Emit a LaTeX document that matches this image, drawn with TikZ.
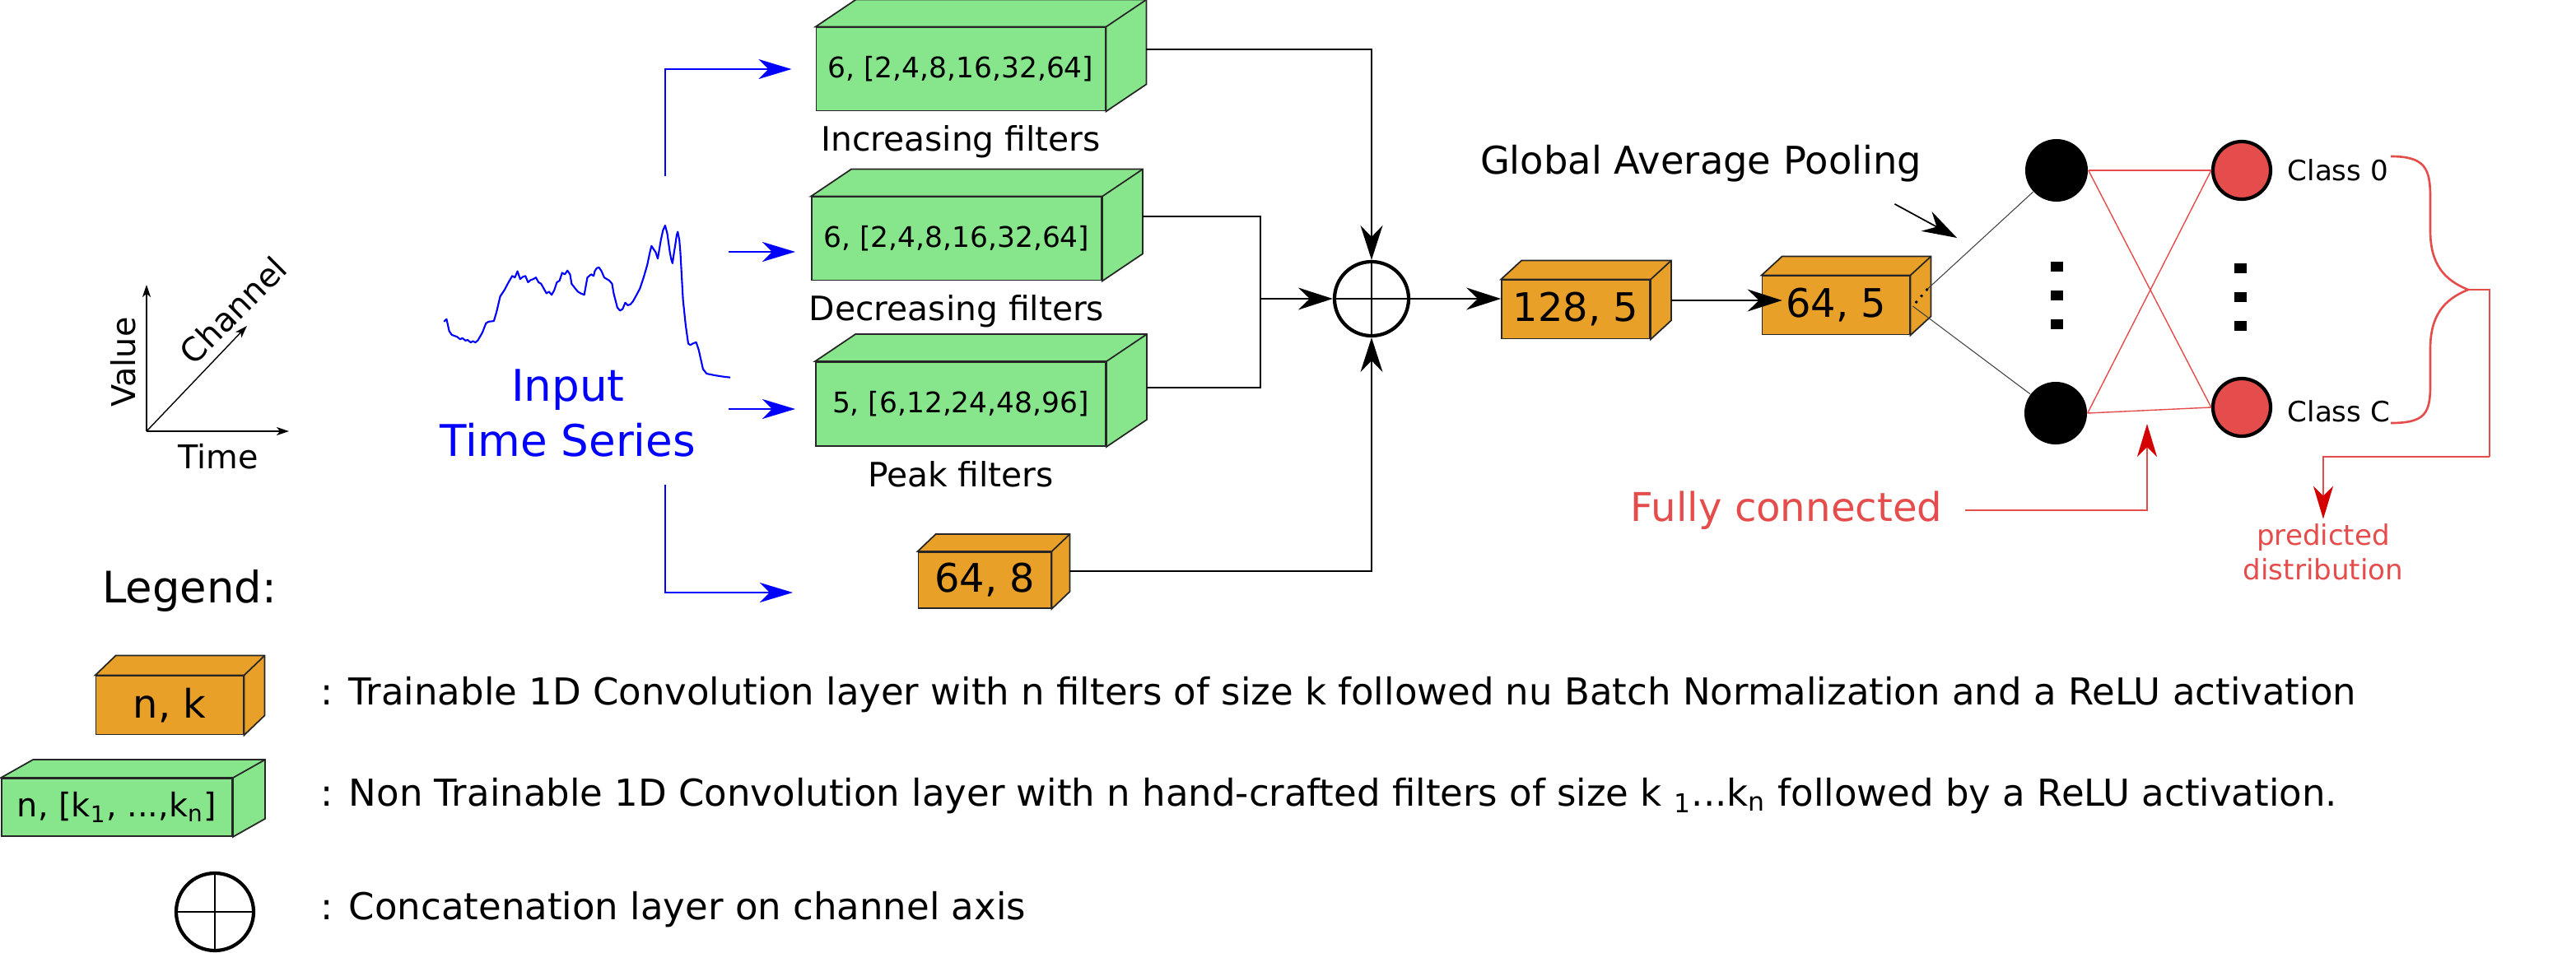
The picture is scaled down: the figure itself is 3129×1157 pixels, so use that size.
\documentclass[tikz,border=0pt]{standalone}
\usepackage{fontspec}
\setmainfont{DejaVu Sans}
\usepackage{tikz}
\usetikzlibrary{arrows.meta,calc,positioning}

\definecolor{boxgreen}{RGB}{135,230,139}
\definecolor{boxorange}{RGB}{232,160,40}
\definecolor{fcred}{RGB}{229,76,76}
\definecolor{tipred}{RGB}{212,0,0}

\begin{document}
\begin{tikzpicture}[
    x=0.01cm, y=-0.01cm,
    layer/.style={
      rectangle,
      draw=black!85,
      line width=0.5pt,
      inner sep=0pt,
      anchor=center
    },
    greenbox/.style={layer, fill=boxgreen, font=\fontsize{9.8}{12}\selectfont},
    orangebox/.style={layer, fill=boxorange, font=\fontsize{13.6}{16}\selectfont},
    caption/.style={font=\fontsize{11.6}{14}\selectfont},
    legendtext/.style={anchor=west, inner sep=0pt, font=\fontsize{12.8}{15}\selectfont},
    catnode/.style={
      circle, draw, line width=1.2pt, minimum size=0.90cm, inner sep=0pt,
      path picture={
        \draw[line width=0.45pt] (path picture bounding box.north) -- (path picture bounding box.south)
                                 (path picture bounding box.west) -- (path picture bounding box.east);
      }
    },
    conn/.style={line width=0.5pt, -{Stealth[length=0.42cm, width=0.27cm, inset=0.14cm]}},
    bluearrow/.style={blue, line width=0.75pt, -{Stealth[length=0.40cm, width=0.24cm, inset=0.12cm]}},
    redconn/.style={fcred, line width=0.75pt},
    redtip/.style={redconn, -{Stealth[length=0.40cm, width=0.24cm, inset=0.12cm, color=tipred]}},
    axis/.style={line width=0.4pt, -{Stealth[length=0.15cm, width=0.10cm, inset=0.04cm]}},
    hidden/.style={circle, fill=black, minimum size=0.76cm, inner sep=0pt},
    output/.style={circle, fill=fcred, draw=black, line width=1.2pt, minimum size=0.70cm, inner sep=0pt},
    dotbox/.style={rectangle, fill=black, minimum width=0.15cm, minimum height=0.12cm, inner sep=0pt}
  ]
  \useasboundingbox (0,0) rectangle (3129,1157);

  % axes
  \coordinate (orig) at (178,524);
  \coordinate (vtop) at (178,346);
  \coordinate (ttop) at (351,524);
  \coordinate (ctop) at (300,396);
  \draw[axis] (orig) -- (vtop);
  \draw[axis] (orig) -- (ttop);
  \draw[axis] (orig) -- (ctop);
  \node[rotate=90, font=\fontsize{11.3}{13}\selectfont] (value) at (150,440) {Value};
  \node[rotate=45, font=\fontsize{11.3}{13}\selectfont] (channel) at (283,377) {Channel};
  \node[font=\fontsize{11.3}{13}\selectfont] (time) at (265,555) {Time};

  % input series
  \begin{scope}[x=0.006378cm, y=-0.003827cm]
    \draw[blue, line width=0.6pt, line join=round] plot coordinates {
      (845,1020) (850,1012) (855,1050) (860,1062) (870,1068) (876,1076) (880,1072) (886,1080)
      (890,1078) (896,1086) (900,1082) (905,1086) (910,1078) (918,1055) (925,1025) (930,1020)
      (940,1018) (945,990) (952,940) (960,920) (968,895) (975,875) (980,880) (985,860) (990,885)
      (995,878) (1000,875) (1005,895) (1010,888) (1015,885) (1020,880) (1025,895) (1030,900)
      (1035,915) (1040,930) (1045,925) (1050,935) (1055,920) (1060,895) (1065,890) (1070,865)
      (1075,870) (1080,858) (1085,870) (1088,900) (1095,915) (1100,925) (1105,930) (1112,935)
      (1118,880) (1125,870) (1130,875) (1132,860) (1136,850) (1140,848) (1145,860) (1150,880)
      (1155,885) (1160,890) (1165,900) (1168,930) (1175,975) (1180,985) (1185,980) (1190,960)
      (1195,968) (1200,965) (1205,955) (1210,940) (1218,915) (1225,880) (1232,840) (1237,800)
      (1240,780) (1244,790) (1248,800) (1252,820) (1255,790) (1258,760) (1262,730) (1266,715)
      (1270,740) (1275,800) (1278,825) (1280,835) (1283,800) (1285,780) (1288,745) (1290,735)
      (1293,760) (1295,800) (1300,950) (1305,1030) (1310,1090) (1314,1094) (1318,1090) (1325,1085)
      (1330,1110) (1338,1170) (1345,1185) (1360,1190) (1375,1194) (1390,1197)
    };
  \end{scope}
  \node[blue, align=center, font=\fontsize{15.1}{18.8}\selectfont] (input) at (690,502) {Input\\Time Series};

  % filter banks
  \node[greenbox, minimum width=3.51cm, minimum height=1.01cm] (inc) at (1167,84) {6, [2,4,8,16,32,64]};
  \node[greenbox, minimum width=3.52cm, minimum height=1.01cm] (dec) at (1162,290) {6, [2,4,8,16,32,64]};
  \node[greenbox, minimum width=3.52cm, minimum height=1.02cm] (peak) at (1167,491) {5, [6,12,24,48,96]};
  \node[orangebox, minimum width=1.61cm, minimum height=0.68cm] (k8) at (1196,705) {64, 8};
  \node[caption, below=0.05cm of inc] (inclabel) {Increasing filters};
  \node[caption, below=0.05cm of dec] (declabel) {Decreasing filters};
  \node[caption, below=0.05cm of peak] (peaklabel) {Peak filters};

  % concatenation and convolutions
  \node[catnode] (cat) at (1666,363) {};
  \node[orangebox, minimum width=1.80cm, minimum height=0.71cm] (k128) at (1914,376) {128, 5};
  \node[orangebox, minimum width=1.79cm, minimum height=0.71cm] (k64) at (2230,371) {64, 5};

  % legend
  \node[font=\fontsize{15}{18}\selectfont] (legend) at (230,718) {Legend:};
  \node[orangebox, minimum width=1.79cm, minimum height=0.71cm] (legk) at (206,857) {n, k};
  \node[greenbox, minimum width=2.80cm, minimum height=0.70cm, font=\fontsize{11.3}{13}\selectfont] (legg) at (142,981)
    {n, [k\textsubscript{1}, ...,k\textsubscript{n}]};
  \node[catnode, minimum width=0.90cm, minimum height=0.94cm] (legcat) at (261,1108) {};
  \node[legendtext] (legtext1) at (389,844) {: Trainable 1D Convolution layer with n filters of size k followed nu Batch Normalization and a ReLU activation};
  \node[legendtext] (legtext2) at (389,967) {: Non Trainable 1D Convolution layer with n hand-crafted filters of size k \textsubscript{1}...k\textsubscript{n} followed by a ReLU activation.};
  \node[legendtext] (legtext3) at (389,1105) {: Concatenation layer on channel axis};

  % depth faces of the boxes
  \foreach \n/\dx/\dy/\col in {inc/49/33/boxgreen, dec/49/33/boxgreen, peak/49/33/boxgreen, k8/22/21/boxorange,
                                k128/25/23/boxorange, k64/25/23/boxorange, legk/25/24/boxorange, legg/39/22/boxgreen} {
    \filldraw[fill=\col, draw=black!85, line width=0.5pt]
      (\n.north west) -- ++(\dx,-\dy) -| ($(\n.south east)+(\dx,-\dy)$) -- (\n.south east) -- (\n.north east) -- cycle;
    \draw[black!85, line width=0.5pt] (\n.north east) -- ++(\dx,-\dy);
  }

  % input branches
  \coordinate (s1) at (808,214);
  \coordinate (s2) at (885,306);
  \coordinate (t2) at (966,306);
  \coordinate (s3) at (885,497);
  \coordinate (t3) at (966,497);
  \coordinate (s4) at (808,589);
  \coordinate (t4) at (963,720);
  \draw[bluearrow, shorten >=0.29cm] (s1) |- (inc.west);
  \draw[bluearrow] (s2) -- (t2);
  \draw[bluearrow] (s3) -- (t3);
  \draw[bluearrow] (s4) |- (t4);

  % into the concatenation
  \coordinate (join) at (1531,363);
  \draw[conn] ([shift={(49,-24)}]inc.east) -| (cat.north);
  \draw[line width=0.5pt] ([shift={(49,-27)}]dec.east) -| (join);
  \draw[line width=0.5pt] ([shift={(49,-20)}]peak.east) -| (join);
  \draw[conn] (join) -- (cat.west);
  \draw[conn] ([shift={(22,-11)}]k8.east) -| (cat.south);
  \draw[conn] (cat.east) -- (cat.east -| k128.west);
  \draw[conn] ([shift={(25,-11)}]k128.east) -- ([shift={(25,-11)}]k128.east -| k64.west);

  % fully connected part
  \node[hidden] (h1) at (2498,207) {};
  \node[hidden] (h2) at (2497,502) {};
  \node[output] (o1) at (2723,207) {};
  \node[output] (o2) at (2723,495) {};
  \foreach \y [count=\i] in {324,359,394} {
    \node[dotbox] (hd\i) at (2498,\y) {};
  }
  \foreach \y [count=\i] in {326,361,396} {
    \node[dotbox] (od\i) at (2721,\y) {};
  }
  \coordinate (gp1) at ([shift={(21,-20)}]k64.east);
  \coordinate (gp2) at ([shift={(3,1)}]k64.east);
  \draw[line width=0.8pt, dotted] (gp1) -- (gp2);
  \draw[black!75, line width=0.3pt] (gp1) -- (h1);
  \draw[black!75, line width=0.3pt] (gp2) -- (h2);
  \draw[fcred, line width=0.4pt] (h1.east) -- (o1.west);
  \draw[fcred, line width=0.4pt] (h1.east) -- (o2.west);
  \draw[fcred, line width=0.4pt] (h2.east) -- (o1.west);
  \draw[fcred, line width=0.4pt] (h2.east) -- (o2.west);
  \node[anchor=west, inner sep=0pt, font=\fontsize{9.7}{12}\selectfont] (class0) at (2778,207) {Class 0};
  \node[anchor=west, inner sep=0pt, font=\fontsize{9.7}{12}\selectfont] (classC) at (2778,500) {Class C};

  \node[font=\fontsize{13.2}{16}\selectfont] (gap) at (2066,199) {Global Average Pooling};
  \coordinate (gapend) at (2377,289);
  \draw[conn] ([shift={(-45,14)}]gap.south east) -- (gapend);

  \node[fcred, font=\fontsize{13.7}{16}\selectfont] (fc) at (2170,620) {Fully connected};
  \coordinate (fcend) at (2608,515);
  \draw[redtip, shorten <=0.15cm] (fc.east) -| (fcend);

  % output brace
  \coordinate (brtip) at (2998,352);
  \coordinate (corner) at (3024,555);
  \draw[redconn] (2904,190) .. controls (2946,190) and (2952,205) .. (2952,240)
    -- (2952,280) .. controls (2952,320) and (2968,340) .. (brtip)
    .. controls (2968,364) and (2952,384) .. (2952,424)
    -- (2952,468) .. controls (2952,502) and (2946,514) .. (2904,514);
  \node[fcred, align=center, font=\fontsize{9.7}{11.8}\selectfont] (pred) at (2822,671) {predicted\\distribution};
  \draw[redconn] (brtip) -| (corner);
  \draw[redtip] (corner) -| ([yshift=-0.06cm]pred.north);
\end{tikzpicture}
\end{document}
